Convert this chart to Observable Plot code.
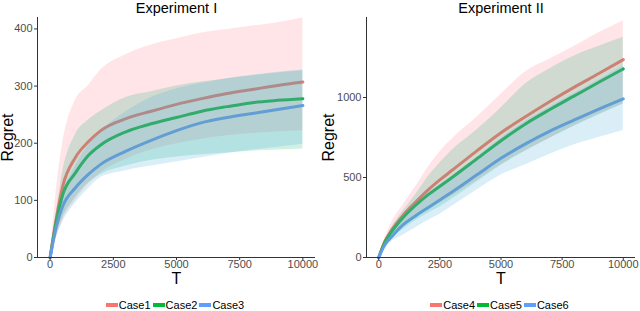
<!DOCTYPE html>
<html>
<head>
<meta charset="utf-8">
<script src="https://cdn.jsdelivr.net/npm/d3@7"></script>
<script src="https://cdn.jsdelivr.net/npm/@observablehq/plot@0.6"></script>
<style>
  body { margin: 0; background: #fff; font-family: "Liberation Sans", Arial, sans-serif; }
  #wrap { display: flex; width: 640px; height: 311px; }
  .panel { width: 320px; position: relative; }
  .legend { display: flex; justify-content: center; align-items: center; height: 13px; margin-top: 8px; font-size: 11px; color: #000; }
  .legend .item { display: flex; align-items: center; margin-right: 2px; }
  .legend .sw { width: 12px; height: 4px; margin-right: 1px; }
</style>
</head>
<body>
<div id="wrap"></div>
<script>
// ---------- Data ----------
const T_I = [0, 250, 500, 1000, 1500, 2000, 3000, 4000, 5000, 6000, 7000, 8000, 9000, 10000];
const case1    = [0, 70, 125, 175, 202, 222, 243, 256, 268, 278, 287, 294, 301, 307];
const case1_lo = [0, 35, 65, 100, 128, 148, 172, 188, 199, 207, 213, 217, 220, 222];
const case1_hi = [0, 120, 200, 275, 300, 328, 355, 372, 383, 393, 399, 405, 411, 419];
const case2    = [0, 65, 110, 148, 178, 197, 220, 234, 245, 256, 264, 271, 275, 278];
const case2_lo = [0, 40, 70, 105, 130, 145, 160, 170, 176, 180, 183, 186, 188, 190];
const case2_hi = [0, 80, 150, 215, 240, 256, 280, 290, 300, 307, 313, 318, 323, 327];
const case3    = [0, 55, 90, 122, 145, 163, 186, 205, 222, 236, 245, 252, 259, 266];
const case3_lo = [0, 35, 62, 95, 120, 140, 152, 160, 167, 175, 182, 188, 193, 198];
const case3_hi = [0, 70, 110, 160, 195, 220, 255, 280, 295, 305, 313, 319, 324, 328];

const T_II = [0, 250, 500, 1000, 1500, 2000, 2500, 3000, 4000, 5000, 6000, 7000, 8000, 9000, 10000];
const case4    = [0, 100, 165, 265, 345, 420, 485, 545, 665, 780, 880, 975, 1065, 1150, 1237];
const case4_lo = [0, 70, 120, 190, 250, 300, 340, 385, 480, 580, 665, 745, 825, 895, 960];
const case4_hi = [0, 120, 210, 330, 440, 560, 660, 740, 875, 1020, 1160, 1240, 1320, 1405, 1478];
const case5    = [0, 95, 155, 250, 325, 390, 445, 500, 615, 730, 835, 925, 1010, 1095, 1179];
const case5_lo = [0, 65, 110, 175, 230, 275, 315, 365, 470, 575, 665, 745, 820, 890, 960];
const case5_hi = [0, 105, 180, 290, 390, 500, 590, 670, 795, 935, 1085, 1180, 1260, 1320, 1377];
const case6    = [0, 80, 125, 205, 260, 310, 360, 410, 515, 620, 710, 790, 860, 928, 992];
const case6_lo = [0, 55, 95, 140, 185, 230, 270, 320, 420, 515, 580, 645, 705, 750, 794];
const case6_hi = [0, 95, 160, 260, 335, 400, 455, 510, 625, 745, 850, 940, 1025, 1110, 1195];

const xTicks = [0, 2500, 5000, 7500, 10000];
const yTicksI = [0, 100, 200, 300, 400];
const yTicksII = [0, 500, 1000];
const lineColors = ["#F8766D", "#00BA38", "#619CFF"];
const bandColors = ["#FF788C", "#14B478", "#46AADC"];

function table(T, names, means, los, his) {
  const rows = [];
  names.forEach((name, k) => {
    T.forEach((t, i) => rows.push({series: name, T: t, mean: means[k][i], lo: los[k][i], hi: his[k][i]}));
  });
  return rows;
}

function panel({title, data, names, yDomain, yTicks, marginLeft, regretDx}) {
  const chart = Plot.plot({
    width: 320,
    height: 290,
    marginLeft,
    marginRight: 5,
    marginTop: 17,
    marginBottom: 33,
    style: {fontFamily: "'Liberation Sans', Arial, sans-serif", fontSize: "11px", background: "#fff"},
    x: {domain: [-500, 10500]},
    y: {domain: yDomain},
    marks: [
      Plot.line(data, {x: "T", y: "mean", z: "series", stroke: d => lineColors[names.indexOf(d.series)], strokeWidth: 3, curve: "monotone-x"}),
      Plot.areaY(data, {x: "T", y1: "lo", y2: "hi", z: "series", fill: d => bandColors[names.indexOf(d.series)], fillOpacity: 0.2, curve: "monotone-x"}),
      Plot.ruleY([0], {stroke: "#333", strokeWidth: 1}),
      Plot.ruleX([-500], {stroke: "#333", strokeWidth: 1}),
      Plot.axisX({ticks: xTicks, tickFormat: d => String(d), tickSize: 3, tickPadding: 0, stroke: "#333", fill: "#4d4d4d", fontSize: 11, label: null}),
      Plot.axisY({ticks: yTicks, tickFormat: d => String(d), tickSize: 3, tickPadding: 2, stroke: "#333", fill: "#4d4d4d", fontSize: 11, label: null}),
      Plot.text([title], {frameAnchor: "top", dy: -9, lineAnchor: "middle", textAnchor: "middle", fontSize: 14.5, fill: "#000"}),
      Plot.text(["T"], {frameAnchor: "bottom", dy: 21, lineAnchor: "middle", textAnchor: "middle", fontSize: 16, fill: "#000"}),
      Plot.text(["Regret"], {frameAnchor: "left", dx: regretDx, rotate: -90, lineAnchor: "middle", textAnchor: "middle", fontSize: 16, fill: "#000"})
    ]
  });
  const div = document.createElement("div");
  div.className = "panel";
  div.appendChild(chart);
  const leg = document.createElement("div");
  leg.className = "legend";
  leg.style.paddingLeft = (marginLeft - 5) + "px";
  names.forEach((n, i) => {
    const it = document.createElement("div");
    it.className = "item";
    const sw = document.createElement("div");
    sw.className = "sw";
    sw.style.background = lineColors[i];
    const tx = document.createElement("span");
    tx.textContent = n;
    it.appendChild(sw); it.appendChild(tx);
    leg.appendChild(it);
  });
  div.appendChild(leg);
  return div;
}

const namesI = ["Case1", "Case2", "Case3"];
const namesII = ["Case4", "Case5", "Case6"];
const wrap = document.getElementById("wrap");
wrap.appendChild(panel({
  title: "Experiment I",
  data: table(T_I, namesI, [case1, case2, case3], [case1_lo, case2_lo, case3_lo], [case1_hi, case2_hi, case3_hi]),
  names: namesI, yDomain: [0, 420], yTicks: yTicksI, marginLeft: 37, regretDx: -30
}));
wrap.appendChild(panel({
  title: "Experiment II",
  data: table(T_II, namesII, [case4, case5, case6], [case4_lo, case5_lo, case6_lo], [case4_hi, case5_hi, case6_hi]),
  names: namesII, yDomain: [0, 1500], yTicks: yTicksII, marginLeft: 46, regretDx: -38
}));
</script>
</body>
</html>
